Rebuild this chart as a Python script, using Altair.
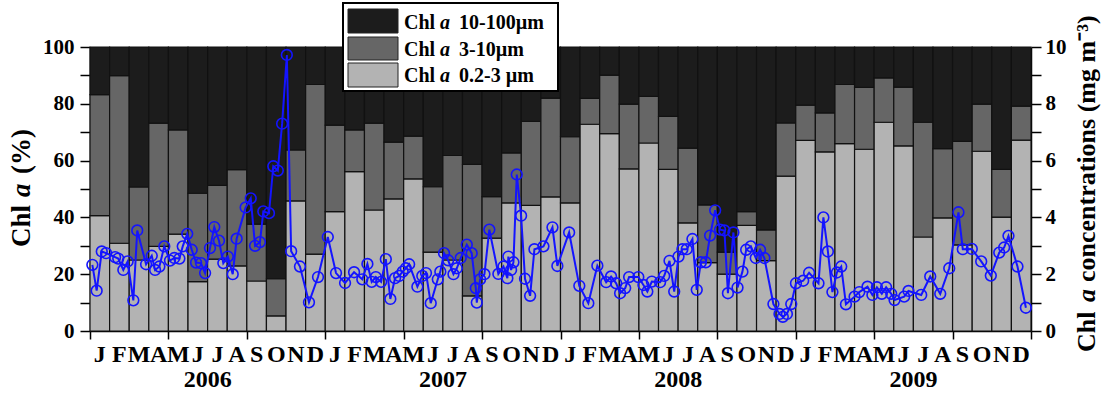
import altair as alt
import pandas as pd

# ---------------- data ----------------
month_letters = ["J", "F", "M", "A", "M", "J", "J", "A", "S", "O", "N", "D"]
years = [2006, 2007, 2008, 2009]
size_classes = ["Chl a 0.2-3 µm", "Chl a 3-10µm", "Chl a 10-100µm"]

# % of total Chl a in each size class, one value per month (Jan 2006 - Dec 2009)
pct_02_3 = [40.6, 30.9, 25.0, 29.8, 34.1, 17.4, 25.3, 22.9, 17.6, 5.3, 45.8, 27.1,
            42.0, 56.1, 42.6, 46.5, 53.6, 27.8, 25.0, 12.4, 32.7, 45.1, 44.2, 47.2,
            45.1, 72.8, 69.5, 57.1, 66.2, 56.9, 38.1, 24.1, 20.0, 37.2, 24.8, 54.5,
            67.1, 63.1, 66.0, 64.0, 73.5, 65.2, 33.1, 39.8, 30.3, 63.3, 40.1, 67.2]
pct_3_10 = [42.6, 59.0, 25.7, 43.4, 36.7, 31.1, 26.0, 33.9, 20.0, 13.1, 18.0, 59.7,
            30.5, 14.7, 30.6, 20.0, 15.0, 23.0, 36.8, 46.3, 14.6, 17.6, 29.6, 34.8,
            23.3, 9.1, 20.6, 22.8, 16.4, 18.7, 26.3, 20.3, 7.8, 4.8, 10.8, 18.8,
            12.4, 13.7, 20.8, 21.8, 15.6, 20.7, 40.4, 24.4, 36.5, 16.6, 16.8, 12.0]

# sampling time (months since 1 Jan 2006) and total Chl a (mg m-3)
sample_month = [0.12, 0.34, 0.60, 0.82, 1.28, 1.44, 1.70, 1.92, 2.21, 2.41,
                2.86, 3.15, 3.32, 3.54, 3.79, 4.08, 4.30, 4.56, 4.73, 4.96,
                5.19, 5.41, 5.66, 5.87, 6.12, 6.34, 6.58, 6.80, 7.03, 7.28,
                7.48, 7.94, 8.20, 8.42, 8.67, 8.84, 9.13, 9.35, 9.58, 9.80,
                10.04, 10.26, 10.71, 11.17, 11.63, 12.13, 12.55, 13.01, 13.47, 13.89,
                14.15, 14.37, 14.58, 14.85, 15.09, 15.32, 15.56, 15.77, 15.95, 16.11,
                16.28, 16.70, 16.95, 17.14, 17.38, 17.74, 17.87, 18.06, 18.27, 18.54,
                18.71, 18.91, 19.22, 19.47, 19.68, 19.73, 19.90, 20.12, 20.37, 20.83,
                21.09, 21.29, 21.34, 21.48, 21.60, 21.77, 21.99, 22.19, 22.45, 22.67,
                23.13, 23.59, 23.84, 24.44, 24.96, 25.42, 25.88, 26.33, 26.58, 26.84,
                27.04, 27.30, 27.50, 27.97, 28.23, 28.43, 28.66, 29.08, 29.29, 29.56,
                29.80, 30.02, 30.22, 30.44, 30.73, 30.95, 31.16, 31.41, 31.63, 31.89,
                32.14, 32.36, 32.54, 32.82, 33.03, 33.28, 33.47, 33.71, 33.96, 34.18,
                34.40, 34.86, 35.17, 35.34, 35.55, 35.77, 36.01, 36.38, 36.68, 37.16,
                37.41, 37.64, 37.87, 38.10, 38.32, 38.56, 39.00, 39.24, 39.66, 39.91,
                40.14, 40.39, 40.61, 40.87, 41.04, 41.53, 41.75, 42.40, 42.86, 43.37,
                43.83, 44.30, 44.52, 44.98, 45.46, 45.95, 46.38, 46.63, 46.85, 47.31,
                47.74]
chl_total = [2.33, 1.42, 2.80, 2.74, 2.60, 2.55, 2.15, 2.45, 1.08, 3.54,
             2.35, 2.65, 2.15, 2.27, 2.98, 2.48, 2.57, 2.55, 2.98, 3.42,
             2.86, 2.41, 2.39, 2.04, 2.92, 3.66, 3.18, 2.39, 2.62, 2.00,
             3.25, 4.35, 4.67, 3.00, 3.13, 4.21, 4.15, 5.80, 5.65, 7.30,
             9.72, 2.81, 2.27, 1.01, 1.90, 3.31, 2.04, 1.69, 2.07, 1.82,
             2.36, 1.73, 1.90, 1.73, 2.53, 1.13, 1.86, 1.94, 2.09, 2.21,
             2.35, 1.56, 1.94, 2.04, 0.98, 1.82, 2.09, 2.74, 2.49, 2.00,
             2.21, 2.57, 3.04, 2.74, 1.51, 1.00, 1.82, 2.00, 3.57, 2.01,
             2.27, 1.86, 2.62, 2.15, 2.42, 5.51, 4.06, 1.84, 1.24, 2.88,
             2.98, 3.65, 2.29, 3.47, 1.59, 0.98, 2.30, 1.72, 1.92, 1.68,
             1.33, 1.51, 1.90, 1.90, 1.62, 1.39, 1.74, 1.72, 1.94, 2.47,
             1.39, 2.62, 2.88, 2.88, 3.24, 1.45, 2.42, 2.42, 3.36, 4.25,
             3.57, 3.54, 1.33, 3.47, 1.53, 2.09, 2.86, 2.98, 2.57, 2.86,
             2.57, 0.95, 0.60, 0.50, 0.60, 0.95, 1.68, 1.77, 2.05, 1.68,
             4.00, 2.80, 1.37, 2.06, 2.27, 0.94, 1.21, 1.37, 1.56, 1.27,
             1.54, 1.31, 1.54, 1.31, 1.09, 1.21, 1.41, 1.27, 1.92, 1.31,
             2.21, 4.18, 2.88, 2.89, 2.45, 1.95, 2.76, 2.94, 3.35, 2.27,
             0.82]

# ---------------- tables ----------------
rows = []
for i, (a, b) in enumerate(zip(pct_02_3, pct_3_10)):
    c = 100 - a - b
    bounds = [(0, a), (a, a + b), (a + b, a + b + c)]
    for cls, (lo, hi) in zip(size_classes, bounds):
        rows.append({"m0": i, "m1": i + 1, "lo": lo, "hi": hi, "cls": cls})
bar_df = pd.DataFrame(rows)
line_df = pd.DataFrame({"m": sample_month, "chl": chl_total})
N = len(pct_02_3)
month_df = pd.DataFrame({"pos": [i + 0.5 for i in range(N)],
                         "lab": [month_letters[i % 12] for i in range(N)]})
year_df = pd.DataFrame({"year": [str(y) for y in years],
                        "mid": [12 * k + 6 for k in range(len(years))]})
dummy = pd.DataFrame({"k": [0]})

FONT = "Liberation Serif"
BLUE = "#1414ff"
COLORS = ["#b3b3b3", "#666666", "#1c1c1c"]
W, H = 941, 284

xscale = alt.Scale(domain=[0, N], nice=False, zero=False)
xaxis = alt.Axis(values=list(range(N + 1)), title=None, grid=False, labels=False,
                 tickSize=8)
left_axis = alt.Axis(values=list(range(0, 101, 10)), title=None, grid=False,
                     labelExpr="datum.value % 20 === 0 ? datum.label : ''",
                     tickSize=10, labelPadding=6, labelFontSize=21)
right_axis = alt.Axis(orient="right", values=list(range(0, 11)), title=None, grid=False,
                      labelExpr="datum.value % 2 === 0 ? datum.label : ''",
                      tickSize=10, labelPadding=4, labelFontSize=21)

bars = alt.Chart(bar_df).mark_rect(stroke="#111111", strokeWidth=1.2).encode(
    x=alt.X("m0:Q", scale=xscale, axis=xaxis),
    x2="m1:Q",
    y=alt.Y("lo:Q", scale=alt.Scale(domain=[0, 100], nice=False), axis=left_axis),
    y2="hi:Q",
    color=alt.Color("cls:N", scale=alt.Scale(domain=size_classes, range=COLORS), legend=None),
)

yr = alt.Y("chl:Q", scale=alt.Scale(domain=[0, 10], nice=False), axis=right_axis)
line = alt.Chart(line_df).mark_line(color=BLUE, strokeWidth=2).encode(
    x=alt.X("m:Q", scale=xscale), y=yr)
pts = alt.Chart(line_df).mark_point(shape="circle", filled=False, color=BLUE,
                                    size=115, strokeWidth=1.6, opacity=1).encode(
    x=alt.X("m:Q", scale=xscale), y=yr)
conc = alt.layer(line, pts)

month_txt = alt.Chart(month_df).mark_text(font=FONT, fontWeight="bold", fontSize=24,
                                          baseline="alphabetic", color="black").encode(
    x=alt.X("pos:Q", scale=xscale), y=alt.value(H + 31), text="lab:N")
year_txt = alt.Chart(year_df).mark_text(font=FONT, fontWeight="bold", fontSize=24,
                                        baseline="alphabetic", color="black").encode(
    x=alt.X("mid:Q", scale=xscale), y=alt.value(H + 56), text="year:N")


def txt(t, x, y, size=20, style="normal", angle=0, baseline="alphabetic"):
    return alt.Chart(dummy).mark_text(text=t, font=FONT, fontSize=size, fontWeight="bold",
                                      fontStyle=style, angle=angle, align="left",
                                      baseline=baseline, color="black").encode(
        x=alt.value(x), y=alt.value(y))


def box(x0, x1, y0, y1, fill, stroke, sw):
    return alt.Chart(dummy).mark_rect(fill=fill, stroke=stroke, strokeWidth=sw).encode(
        x=alt.value(x0), x2=alt.value(x1), y=alt.value(y0), y2=alt.value(y1))


legend_layers = [box(253, 468, -44, 44, "white", "black", 2)]
sw_rows = [(-38, -14, 2, -17.7, "10-100µm"),
           (-10, 13, 1, 8.7, "3-10µm"),
           (16, 40, 0, 34.7, "0.2-3 µm")]
for y0, y1, ci, base, lab in sw_rows:
    legend_layers.append(box(258, 308, y0, y1, COLORS[ci], "#222222", 1))
    legend_layers.append(txt("Chl", 314, base))
    legend_layers.append(txt("a", 350, base, style="italic"))
    legend_layers.append(txt(lab, 369, base))

title_layers = [
    txt("Chl", -68, 200, size=27, angle=270, baseline="middle"),
    txt("a", -68, 150, size=27, style="italic", angle=270, baseline="middle"),
    txt("(%)", -68, 127, size=27, angle=270, baseline="middle"),
    txt("Chl", W + 56, 305, size=26, angle=270, baseline="middle"),
    txt("a", W + 56, 255, size=26, style="italic", angle=270, baseline="middle"),
    txt("concentrations (mg m⁻³)", W + 56, 235, size=26, angle=270, baseline="middle"),
]

chart = alt.layer(bars, conc, month_txt, year_txt, *legend_layers, *title_layers).resolve_scale(
    y="independent"
).properties(
    width=W, height=H,
    padding={"left": 90, "top": 47, "right": 74, "bottom": 63},
    autosize=alt.AutoSizeParams(type="none"),
).configure_view(stroke=None).configure_axis(
    labelFont=FONT, labelFontWeight="bold", labelColor="black",
    domainColor="black", tickColor="black", domainWidth=1.5, tickWidth=1.5,
)

chart.save("out.html", embed_options={"renderer": "svg", "actions": False})
